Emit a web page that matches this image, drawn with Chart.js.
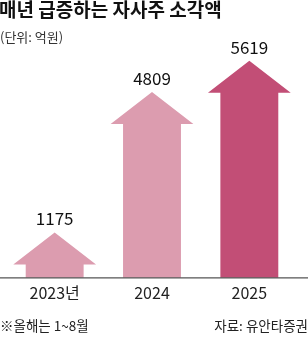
<!DOCTYPE html>
<html><head><meta charset="utf-8">
<script src="https://cdn.jsdelivr.net/npm/chart.js@4"></script>
<style>html,body{margin:0;padding:0;background:#fff}#wrap{width:308px;height:351px}</style>
</head><body><div id="wrap"><canvas id="c"></canvas></div>
<script>
const categories = ['2023년', '2024', '2025'];
const values = [1175, 4809, 5619];
const valueLabels = ['1175', '4809', '5619'];
const colors = ['#dc9caf', '#dc9caf', '#c24e76'];
const titleText = '매년 급증하는 자사주 소각액';
const unitText = '(단위: 억원)';
const noteText = '※올해는 1~8월';
const sourceText = '자료: 유안타증권';

const FONT = '"Liberation Sans Narrow", "Noto Sans CJK KR", sans-serif';
const KFONT = '"Noto Sans CJK KR", sans-serif';

const arrowPlugin = {
  id: 'arrows',
  afterDatasetsDraw(chart) {
    const ctx = chart.ctx;
    const meta = chart.getDatasetMeta(0);
    meta.data.forEach((bar, i) => {
      const {x, y, base, width} = bar.getProps(['x','y','base','width'], true);
      const hw = width / 2, bw = width * 0.35, head = 32;
      const sh = Math.min(y + head, base);
      ctx.save();
      ctx.fillStyle = colors[i];
      ctx.beginPath();
      ctx.moveTo(x, y);
      ctx.lineTo(x + hw, sh);
      ctx.lineTo(x + bw, sh);
      ctx.lineTo(x + bw, base);
      ctx.lineTo(x - bw, base);
      ctx.lineTo(x - bw, sh);
      ctx.lineTo(x - hw, sh);
      ctx.closePath();
      ctx.fill();
      ctx.fillStyle = '#111';
      ctx.font = '17px ' + FONT;
      ctx.textAlign = 'center';
      ctx.textBaseline = 'alphabetic';
      ctx.fillText(valueLabels[i], x, y - 7);
      ctx.restore();
    });
    // baseline
    const b = chart.scales.y.getPixelForValue(0);
    ctx.save();
    ctx.strokeStyle = '#555';
    ctx.lineWidth = 1.2;
    ctx.beginPath();
    ctx.moveTo(0, b); ctx.lineTo(chart.width, b);
    ctx.stroke();
    ctx.restore();
  },
  afterDraw(chart) {
    const ctx = chart.ctx;
    ctx.save();
    ctx.fillStyle = '#111';
    ctx.textBaseline = 'alphabetic';
    ctx.textAlign = 'left';
    ctx.font = 'bold 19px ' + KFONT;
    ctx.fillText(titleText, -1, 17);
    ctx.fillStyle = '#333';
    ctx.font = '13px ' + KFONT;
    ctx.fillText(unitText, 0, 42);
    ctx.fillStyle = '#222';
    ctx.font = '13.5px ' + KFONT;
    ctx.fillText(noteText, 0, 331);
    ctx.textAlign = 'right';
    ctx.fillText(sourceText, 308, 331);
    ctx.restore();
  }
};

new Chart(document.getElementById('c'), {
  type: 'bar',
  data: {
    labels: categories,
    datasets: [{ data: values, backgroundColor: 'rgba(0,0,0,0)', barPercentage: 0.85, categoryPercentage: 1 }]
  },
  options: {
    responsive: true, maintainAspectRatio: false, animation: false,
    layout: { padding: { left: 6, right: 10, top: 46, bottom: 42 } },
    plugins: { legend: { display: false }, tooltip: { enabled: false } },
    scales: {
      x: {
        grid: { display: false, drawTicks: false },
        border: { display: false },
        ticks: { color: '#222', font: { size: 16, family: FONT }, padding: 6 }
      },
      y: { display: false, min: 0, max: 6000 }
    }
  },
  plugins: [arrowPlugin]
});
</script></body></html>
